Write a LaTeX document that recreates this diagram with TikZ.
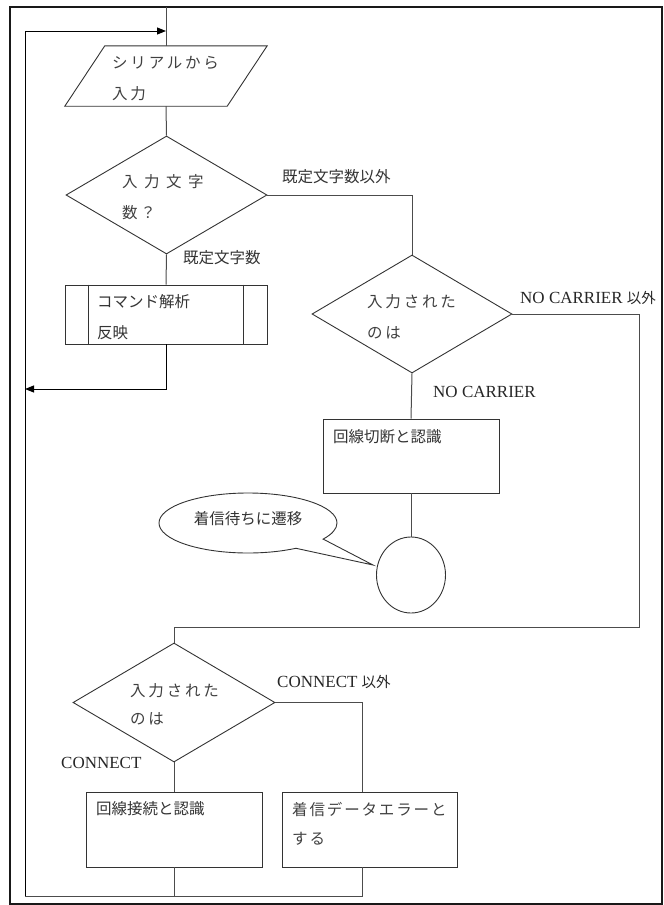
\documentclass[tikz,border=0pt]{standalone}
\usepackage{fontspec}
\newfontfamily\cjk{Noto Sans CJK JP}
\newfontfamily\cjkw[LetterSpace=18]{Noto Sans CJK JP}
\newfontfamily\lat{Liberation Serif}
\usetikzlibrary{shapes.geometric,shapes.callouts,arrows.meta}
\tikzset{
  shp/.style={draw=black!80, line width=0.9pt, inner sep=0pt},
  conn/.style={draw=black!70, line width=1pt},
  arr/.style={draw=black, line width=1pt, -{Triangle[length=9pt,width=7pt]}},
  jt/.style={font=\cjk\fontsize{15.5}{#1}\selectfont, text=black!80, inner sep=0pt, align=left},
  jt/.default=31,
  jw/.style={font=\cjkw\fontsize{15.5}{#1}\selectfont, text=black!75, inner sep=0pt, align=left},
  jw/.default=31,
  lt/.style={font=\lat\fontsize{17}{20}\selectfont, text=black!85, inner sep=0pt},
}
\newcommand{\jsmall}[1]{{\cjk\fontsize{14.5}{18}\selectfont #1}}
\begin{document}
\begin{tikzpicture}[x=1pt,y=-1pt]
\useasboundingbox (0,0) rectangle (664,905);
% outer frame
\draw[black!90, line width=2pt] (10,7) rectangle (662,904);

% input (parallelogram): invisible anchor node + outline
\node[inner sep=0pt, minimum width=162pt, minimum height=60pt] (inp) at (166,76) {};
\draw[shp] ([xshift=20pt]inp.north west) -- ([xshift=20pt]inp.north east)
  -- ([xshift=-20pt]inp.south east) -- ([xshift=-20pt]inp.south west) -- cycle;

\node[shp, diamond, minimum width=201pt, minimum height=118pt] (d1) at (166.5,195) {};
\node[shp, rectangle, minimum width=202pt, minimum height=59pt] (sub) at (166,314.5) {};
\draw[shp] ([xshift=24pt]sub.north west) -- ([xshift=24pt]sub.south west);
\draw[shp] ([xshift=-24pt]sub.north east) -- ([xshift=-24pt]sub.south east);
\node[shp, diamond, minimum width=200pt, minimum height=118pt] (d2) at (412,314) {};
\node[shp, rectangle, minimum width=176pt, minimum height=74pt] (cut) at (411,456) {};
\node[shp, ellipse, minimum width=69pt, minimum height=76pt] (circ) at (411,575) {};
\coordinate (tip) at (373,565);
\node[shp, ellipse callout, minimum width=178pt, minimum height=60pt,
      callout absolute pointer={(tip)}, callout pointer arc=25] (call) at (248,523) {};
\node[shp, diamond, minimum width=202pt, minimum height=119pt] (d3) at (174,702.5) {};
\node[shp, rectangle, minimum width=176pt, minimum height=75pt] (conb) at (174,829.5) {};
\node[shp, rectangle, minimum width=175pt, minimum height=75pt] (errb) at (369.5,829.5) {};

% texts in shapes
\node[jw, anchor=west] (tinp) at (112,78.5) {シリアルから\\入力};
\node[jw, anchor=west] (td1) at (122,197) {入\hspace{6.5pt}力\hspace{6.5pt}文\hspace{6.5pt}字\\数？};
\node[jt, anchor=west] (tsub) at (97,317.5) {コマンド解析\\反映};
\node[jw, anchor=west] (td2) at (367,317) {入力された\\のは};
\node[jt, anchor=west] (tcut) at (333,437) {回線切断と認識};
\node[jt, anchor=center] (tcall) at (248,519) {着信待ちに遷移};
\node[jw=28, anchor=west] (td3) at (130,704) {入力された\\のは};
\node[jt, anchor=west] (tconb) at (96,809) {回線接続と認識};
\node[jw=29, anchor=west, font=\cjk\fontsize{15.5}{29}\selectfont\addfontfeatures{LetterSpace=12}] (terrb) at (292,823.5) {着信データエラーと\\する};

% labels
\node[jt, anchor=west] (l1) at (282,177) {既定文字数以外};
\node[jt, anchor=west] (l2) at (183,258) {既定文字数};
\node[lt, anchor=west] (l3) at (520,298) {NO CARRIER \jsmall{以外}};
\node[lt, anchor=west] (l4) at (433,392) {NO CARRIER};
\node[lt, anchor=west] (l5) at (277,682) {CONNECT \jsmall{以外}};
\node[lt, anchor=west] (l6) at (61,763) {CONNECT};

% helper coordinates
\coordinate (top) at (166,7);
\coordinate (lp) at (25,31);
\coordinate (lb) at (25,896);
\coordinate (r1) at (166,389);
\coordinate (c1) at (639,627);

% connectors
\draw[conn] (top) -- (inp.north);
\draw[arr] (lb) -- (lp) -- (lp -| inp.north);
\draw[conn] (inp.south) -- (d1.north);
\draw[conn] (d1.south) -- (sub.north);
\draw[arr] (sub.south) -- (r1) -- (r1 -| lp);
\draw[conn] (d1.east) -| (d2.north);
\draw[conn] (d2.south) -- (cut.north);
\draw[conn] (cut.south) -- (circ.north);
\draw[conn] (d2.east) -| (c1) -| (d3.north);
\draw[conn] (d3.south) -- (conb.north);
\draw[conn] (d3.east) -| ([xshift=-7.5pt]errb.north);
\draw[conn] (conb.south) -- (conb.south |- lb);
\draw[conn] ([xshift=-7.5pt]errb.south) |- (lb);
\end{tikzpicture}
\end{document}
